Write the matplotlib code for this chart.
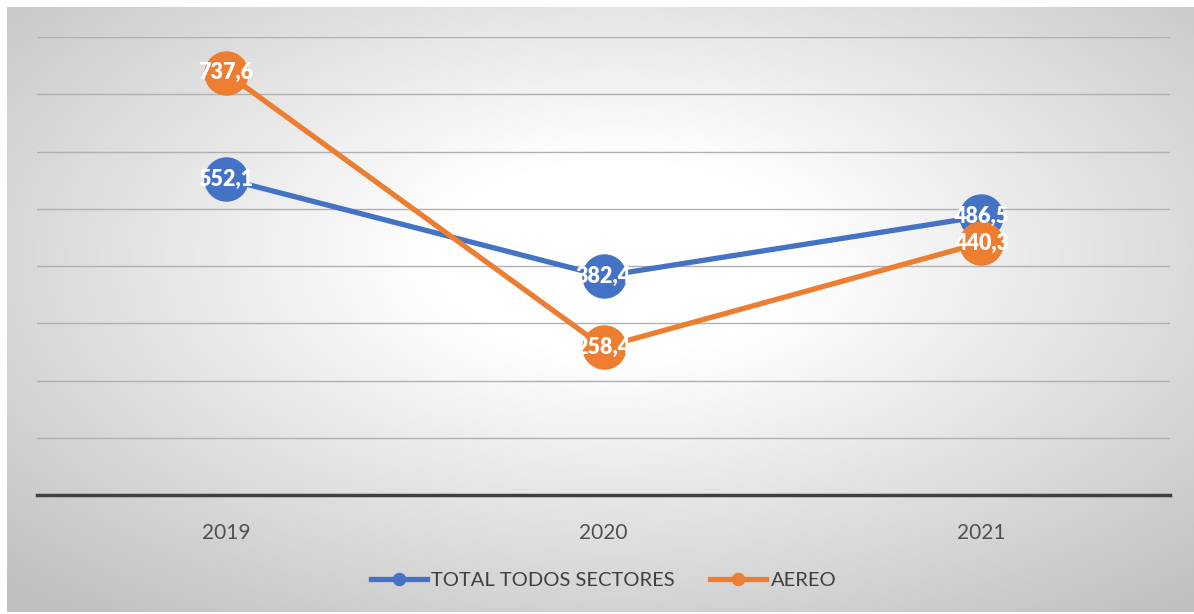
import numpy as np
import matplotlib.pyplot as plt

plt.rcParams.update({
    "font.family": ["Lato", "DejaVu Sans"],
})

years = ["2019", "2020", "2021"]
total_sectores = [552.1, 382.4, 486.5]
aereo = [737.6, 258.4, 440.3]
labels_total = ["552,1", "382,4", "486,5"]
labels_aereo = ["737,6", "258,4", "440,3"]

BLUE = "#4472C4"
ORANGE = "#ED7D31"
W, H = 1194, 614

fig = plt.figure(figsize=(W / 100, H / 100), dpi=100, facecolor="white")

# fondo con degradado radial (blanco al centro, gris en los bordes)
bg = fig.add_axes([7 / W, 2 / H, (W - 7) / W, (H - 9) / H], zorder=-5)
yy, xx = np.mgrid[0:605, 0:1187]
cx, cy = 610, 250
r = np.sqrt(((xx - cx) / 620) ** 2 + ((yy - cy) / 330) ** 2)
t = np.clip((r - 0.3) / 1.1, 0, 1)
v = 1 - 0.25 * t
bg.imshow(np.dstack([v, v, v]), aspect="auto", interpolation="bilinear")
bg.set_axis_off()

ax = fig.add_axes([37 / W, (H - 495) / H, 1133 / W, (495 - 37) / H])
ax.patch.set_alpha(0)
x = np.arange(len(years))

ax.set_ylim(0, 800)
ax.set_xlim(-0.5, 2.5)
ax.set_yticks(np.arange(0, 801, 100))
ax.yaxis.grid(True, color="#b0b0b0", linewidth=1.0)
ax.tick_params(axis="y", left=False, labelleft=False)
ax.tick_params(axis="x", length=0, labelsize=15, labelcolor="#505050", pad=20)
ax.set_xticks(x)
ax.set_xticklabels(years)
for s in ["left", "right", "top"]:
    ax.spines[s].set_visible(False)
ax.spines["bottom"].set_color("#404040")
ax.spines["bottom"].set_linewidth(2.5)
ax.spines["bottom"].set_zorder(3)

ax.plot(x, total_sectores, color=BLUE, lw=3.8, marker="o", ms=31,
        label="TOTAL TODOS SECTORES", zorder=4)
ax.plot(x, aereo, color=ORANGE, lw=3.8, marker="o", ms=31,
        label="AEREO", zorder=5)

for xi, yv, lab in zip(x, total_sectores, labels_total):
    ax.text(xi, yv, lab, color="white", fontsize=15.5, fontweight="heavy",
            ha="center", va="center", zorder=6)
for xi, yv, lab in zip(x, aereo, labels_aereo):
    ax.text(xi, yv, lab, color="white", fontsize=15.5, fontweight="heavy",
            ha="center", va="center", zorder=7)

leg = ax.legend(loc="center", bbox_to_anchor=(0.5, (H - 580 - (H - 495)) / (495 - 37)),
                ncol=2, frameon=False, fontsize=14.5, handlelength=2.8,
                columnspacing=1.75, handletextpad=0.2, markerscale=0.28)
for t_ in leg.get_texts():
    t_.set_color("#404040")

fig.savefig("out.png", dpi=100, facecolor="white")
